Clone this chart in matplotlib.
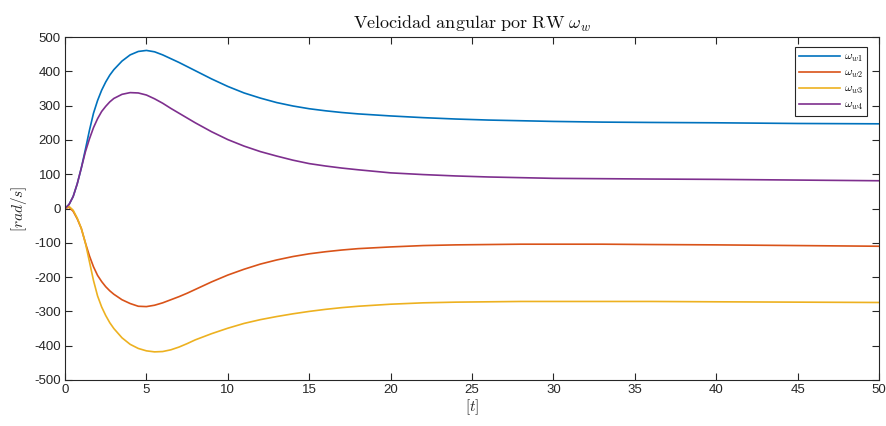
import matplotlib
matplotlib.use("Agg")
import matplotlib.pyplot as plt

plt.rcParams["mathtext.fontset"] = "cm"
plt.rcParams["font.family"] = ["Liberation Sans", "DejaVu Sans"]

# Simulation time [s]
t = [0, 0.25, 0.5, 0.75, 1.0, 1.25, 1.5, 1.75, 2.0, 2.25, 2.5, 2.75, 3.0,
     3.5, 4.0, 4.5, 5.0, 5.5, 6.0, 6.5, 7.0, 7.5, 8.0, 9, 10, 11, 12, 13, 14,
     15, 16, 17, 18, 20, 22, 24, 26, 28, 30, 33, 36, 40, 45, 50]

# Reaction wheel angular velocities [rad/s]
w1 = [0, 12, 35, 72, 118, 172, 228, 278, 315, 345, 369, 389, 405,
      430, 448, 458, 461, 457, 448, 437, 426, 414, 402, 378, 356, 337, 322,
      309, 299, 291, 285, 280, 276, 270, 265, 261, 258, 256, 254, 252, 251,
      250, 248, 247]
w2 = [0, 4, -8, -30, -58, -100, -138, -170, -195, -213, -228, -240, -250,
      -266, -277, -285, -286, -282, -275, -266, -257, -247, -236, -214, -194,
      -177, -162, -150, -140, -132, -126, -121, -117, -112, -108, -106, -105,
      -104, -104, -104, -105, -106, -108, -110]
w3 = [0, 6, -5, -28, -58, -100, -155, -210, -255, -287, -312, -333, -350,
      -377, -396, -408, -415, -418, -417, -412, -404, -394, -383, -365, -349,
      -335, -324, -315, -307, -300, -294, -289, -285, -279, -275, -273, -272,
      -271, -271, -271, -271, -272, -273, -274]
w4 = [0, 12, 35, 72, 118, 165, 203, 236, 262, 283, 298, 311, 321,
      333, 338, 337, 331, 320, 307, 292, 278, 264, 250, 224, 201, 182, 166,
      153, 141, 131, 124, 118, 113, 104, 99, 95, 92, 90, 88, 87, 86, 85, 83,
      81]

labels = [r"$\omega_{w1}$", r"$\omega_{w2}$", r"$\omega_{w3}$", r"$\omega_{w4}$"]
colors = ["#0072BD", "#D95319", "#EDB120", "#7E2F8E"]

xticks = list(range(0, 51, 5))
yticks = list(range(-500, 501, 100))

fig = plt.figure(figsize=(8.87, 4.26), dpi=100)
ax = fig.add_axes([0.0733, 0.108, 0.9177, 0.805])

for series, lab, col in zip([w1, w2, w3, w4], labels, colors):
    ax.plot(t, series, color=col, lw=1.2, label=lab)

ax.set_xlim(0, 50)
ax.set_ylim(-500, 500)
ax.set_xticks(xticks)
ax.set_yticks(yticks)
ax.set_yticklabels([str(v) for v in yticks])

axcol = "#262626"
for s in ax.spines.values():
    s.set_color(axcol)
    s.set_linewidth(0.8)
ax.tick_params(direction="in", top=True, right=True, length=5, width=0.8,
               color=axcol, labelcolor=axcol, labelsize=9.5, pad=3)

ax.set_title(r"$\mathrm{Velocidad\ angular\ por\ RW}\ \omega_w$", fontsize=13,
             color="#111111", pad=6)
ax.set_xlabel(r"$[t]$", fontsize=11, color=axcol, labelpad=1)
ax.set_ylabel(r"$[rad/s]$", fontsize=11, color=axcol, labelpad=4)

leg = ax.legend(loc="upper right", bbox_to_anchor=(0.985, 0.971),
                fontsize=8.5, frameon=True, fancybox=False,
                edgecolor=axcol, framealpha=1, handlelength=3.5,
                handletextpad=0.3, borderpad=0.35, labelspacing=0.25,
                borderaxespad=0.0)
leg.get_frame().set_linewidth(0.8)

fig.savefig("out.png", dpi=100)
